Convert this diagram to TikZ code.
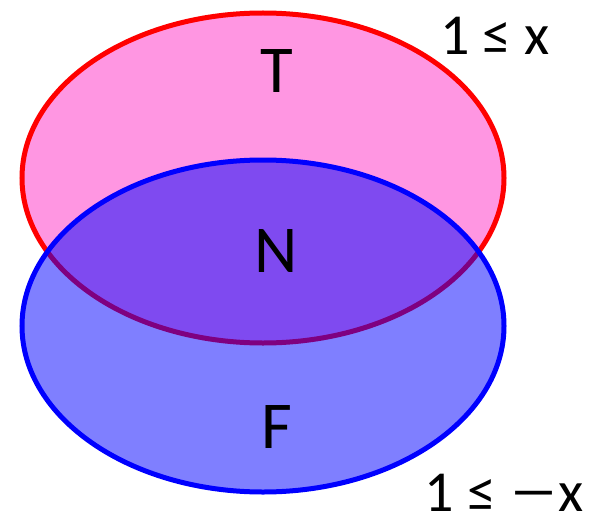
\documentclass[tikz,border=0pt]{standalone}
\usepackage{fontspec}
\setmainfont{Carlito}
\definecolor{pinkfill}{RGB}{255,150,226}
\begin{document}
\begin{tikzpicture}[x=1pt,y=-1pt,
  lbl/.style={font=\fontsize{67}{67}\selectfont, inner sep=0pt},
  cond/.style={font=\fontsize{58}{58}\selectfont, inner sep=0pt},
  setT/.style={draw=red, fill=pinkfill, line width=5pt},
  setF/.style={draw=blue, fill=blue, fill opacity=0.5, line width=5pt}]
\useasboundingbox (0,0) rectangle (599,516);
\draw[setT] (263,178) ellipse [x radius=241, y radius=165];
\draw[setF] (263,326) ellipse [x radius=241, y radius=166];
\node[lbl] (T) at (277,71) {T};
\node[lbl] (N) at (276,251) {N};
\node[lbl] (F) at (277,427) {F};
\node[cond] (cT) at (495,36) {1 ≤ x};
\node[cond] (cF) at (504,493) {1 ≤ \scalebox{1.7}[1]{−}x};
\end{tikzpicture}
\end{document}
